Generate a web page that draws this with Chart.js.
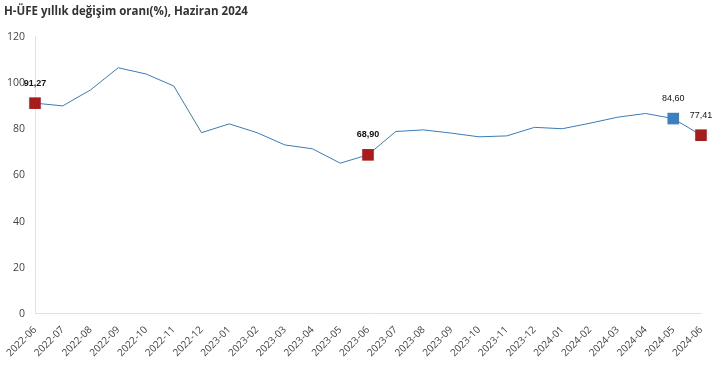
<!DOCTYPE html>
<html lang="tr">
<head>
  <meta charset="UTF-8">
  <title>H-ÜFE yıllık değişim oranı</title>
  <script src="https://cdn.jsdelivr.net/npm/chart.js"></script>
  <style>
    html, body { margin: 0; padding: 0; background: #fff; }
    #kutu { width: 722px; height: 391px; }
  </style>
</head>
<body>
<div id="kutu"><canvas id="grafik"></canvas></div>
<script>
  const aylar = [
    "2022-06", "2022-07", "2022-08", "2022-09", "2022-10", "2022-11", "2022-12",
    "2023-01", "2023-02", "2023-03", "2023-04", "2023-05", "2023-06", "2023-07",
    "2023-08", "2023-09", "2023-10", "2023-11", "2023-12", "2024-01", "2024-02",
    "2024-03", "2024-04", "2024-05", "2024-06"
  ];
  const oranlar = [
    91.27, 90.1, 97.0, 106.6, 103.9, 98.7, 78.5,
    82.3, 78.5, 73.2, 71.5, 65.3, 68.90, 79.0,
    79.7, 78.3, 76.7, 77.1, 80.8, 80.2, 82.6,
    85.2, 86.8, 84.60, 77.41
  ];
  // vurgulanan aylar: kırmızı = haziran, mavi = önceki ay
  const kirmiziAylar = ["2022-06", "2023-06", "2024-06"];
  const maviAylar = ["2024-05"];
  const yTikleri = [0, 20, 40, 60, 80, 100, 120];

  const KIRMIZI = "#a81c1e";
  const MAVI = "#3a80c2";

  const noktaRenk = aylar.map(a => kirmiziAylar.includes(a) ? KIRMIZI : (maviAylar.includes(a) ? MAVI : "rgba(0,0,0,0)"));
  const noktaBoyu = aylar.map(a => (kirmiziAylar.includes(a) || maviAylar.includes(a)) ? 8.2 : 0);

  const etiketEklentisi = {
    id: "etiketler",
    afterDatasetsDraw(chart) {
      const ctx = chart.ctx;
      const meta = chart.getDatasetMeta(0);
      ctx.save();
      ctx.fillStyle = "#111";
      ctx.textAlign = "center";
      ctx.textBaseline = "middle";
      aylar.forEach((a, i) => {
        if (!kirmiziAylar.includes(a) && !maviAylar.includes(a)) return;
        const p = meta.data[i];
        ctx.font = (i < 20 ? "bold " : "") + "9px 'Liberation Sans'";
        ctx.fillText(oranlar[i].toFixed(2).replace(".", ","), p.x, p.y - 20);
      });
      ctx.restore();
    }
  };

  new Chart(document.getElementById("grafik"), {
    type: "line",
    data: {
      labels: aylar,
      datasets: [{
        data: oranlar,
        borderColor: "#3b7cb8",
        borderWidth: 1,
        tension: 0,
        clip: false,
        pointStyle: "rect",
        pointRadius: noktaBoyu,
        pointHoverRadius: noktaBoyu,
        pointBackgroundColor: noktaRenk,
        pointBorderWidth: 0
      }]
    },
    options: {
      responsive: true,
      maintainAspectRatio: false,
      animation: false,
      layout: { padding: { left: 4, right: 21, top: 2, bottom: 30 } },
      plugins: {
        legend: { display: false },
        tooltip: { enabled: false },
        title: {
          display: true,
          text: "H-ÜFE yıllık değişim oranı(%), Haziran 2024",
          align: "start",
          color: "#333",
          font: { family: "'Open Sans'", size: 11.5, weight: "bold" },
          padding: { top: 3, bottom: 18 }
        }
      },
      scales: {
        x: {
          offset: false,
          grid: { display: false },
          border: { display: true, color: "#e2e2e2" },
          afterFit: s => { s.paddingLeft = 0; s.paddingRight = 0; },
          ticks: {
            color: "#444",
            font: { family: "'Open Sans'", size: 10 },
            minRotation: 45,
            maxRotation: 45,
            autoSkip: false,
            padding: 2
          }
        },
        y: {
          min: 0,
          max: 120,
          afterBuildTicks: s => { s.ticks = yTikleri.map(v => ({ value: v })); },
          afterFit: s => { s.width = 31; },
          grid: { display: false, drawTicks: false },
          border: { display: true, color: "#e2e2e2" },
          ticks: {
            color: "#444",
            font: { family: "'Open Sans'", size: 10.5 },
            padding: 10
          }
        }
      }
    },
    plugins: [etiketEklentisi]
  });
</script>
</body>
</html>
